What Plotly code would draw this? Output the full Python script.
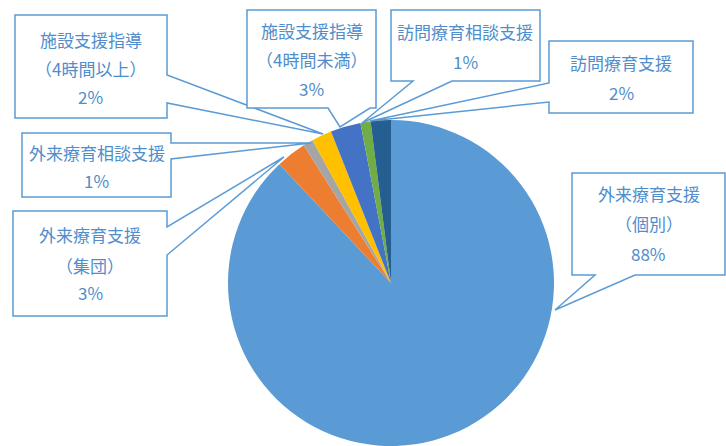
import plotly.graph_objects as go

W, H = 726, 446

# ---- data ----
categories = [
    "外来療育支援（個別）",
    "外来療育支援（集団）",
    "外来療育相談支援",
    "施設支援指導（4時間以上）",
    "施設支援指導（4時間未満）",
    "訪問療育相談支援",
    "訪問療育支援",
]
shares = [88, 3, 1, 2, 3, 1, 2]
slice_colors = ["#5B9BD5", "#ED7D31", "#A5A5A5", "#FFC000", "#4472C4", "#70AD47", "#255E91"]
label_lines = [
    ["外来療育支援", "（個別）"],
    ["外来療育支援", "（集団）"],
    ["外来療育相談支援"],
    ["施設支援指導", "（4時間以上）"],
    ["施設支援指導", "（4時間未満）"],
    ["訪問療育相談支援"],
    ["訪問療育支援"],
]

# ---- callout layout (pixels, top-left origin) ----
# box x0,y0,x1,y1 ; wedge side ; wedge positions a,b ; tip ; text line y's
callouts = [
    dict(box=(572, 173, 725, 275), side="bottom", ab=(595, 635), tip=(555, 310), ty=[193, 223, 253]),
    dict(box=(13, 211, 167, 316), side="right", ab=(227, 255), tip=(284, 157), ty=[235, 265, 292]),
    dict(box=(22, 133, 171, 197), side="right", ab=(143, 159), tip=(311, 143), ty=[152, 180]),
    dict(box=(15, 15, 167, 118), side="right", ab=(75, 103), tip=(323, 134), ty=[39, 68, 97]),
    dict(box=(247, 10, 376, 108), side="bottom", ab=(328, 370), tip=(340, 127), ty=[31, 60, 88]),
    dict(box=(391, 10, 540, 81), side="bottom", ab=(413, 452), tip=(362, 123), ty=[32, 61]),
    dict(box=(549, 41, 693, 113), side="left", ab=(83, 102), tip=(370, 121), ty=[63, 92]),
]

def px(x):
    return x / W

def py(y):
    return 1 - y / H

def callout_path(box, side, ab, tip):
    x0, y0, x1, y1 = box
    a, b = ab
    tx, ty = tip
    pts = [(x0, y0), (x1, y0)]
    if side == "right":
        pts += [(x1, a), (tx, ty), (x1, b)]
    pts += [(x1, y1)]
    if side == "bottom":
        pts += [(b, y1), (tx, ty), (a, y1)]
    pts += [(x0, y1)]
    if side == "left":
        pts += [(x0, b), (tx, ty), (x0, a)]
    s = "M " + " L ".join(f"{px(x):.5f},{py(y):.5f}" for x, y in pts) + " Z"
    return s

fig = go.Figure()

# pie: center (391,283), radius 163
cx, cy, r = 391, 283, 163
fig.add_trace(go.Pie(
    values=shares,
    labels=categories,
    marker=dict(colors=slice_colors, line=dict(width=0)),
    sort=False,
    direction="clockwise",
    rotation=0,
    textinfo="none",
    hoverinfo="label+percent",
    showlegend=False,
    domain=dict(x=[px(cx - r), px(cx + r)], y=[max(0, py(cy + r)), py(cy - r)]),
))

shapes = []
annotations = []
txt_color = "#4F8DCB"
line_color = "#5B9BD5"
font_family = "Noto Sans CJK JP"

for i, c in enumerate(callouts):
    shapes.append(dict(
        type="path", xref="paper", yref="paper",
        path=callout_path(c["box"], c["side"], c["ab"], c["tip"]),
        line=dict(color=line_color, width=1.5),
        fillcolor="white", layer="above",
    ))
    x0, y0, x1, y1 = c["box"]
    lines = label_lines[i] + [f"{shares[i]}%"]
    for t, yy in zip(lines, c["ty"]):
        annotations.append(dict(
            xref="paper", yref="paper",
            x=px((x0 + x1) / 2), y=py(yy),
            xanchor="center", yanchor="middle",
            text=t, showarrow=False,
            font=dict(family=font_family, size=17, color=txt_color),
        ))

# partially visible caption at bottom edge
annotations.append(dict(
    xref="paper", yref="paper", x=px(490), y=py(443),
    xanchor="left", yanchor="top",
    text="延べ総算数：　　人", showarrow=False,
    font=dict(family=font_family, size=20, color="#333333"),
))

fig.update_layout(
    width=W, height=H,
    margin=dict(l=0, r=0, t=0, b=0),
    paper_bgcolor="white", plot_bgcolor="white",
    shapes=shapes, annotations=annotations,
)

fig.write_html("out.html")
